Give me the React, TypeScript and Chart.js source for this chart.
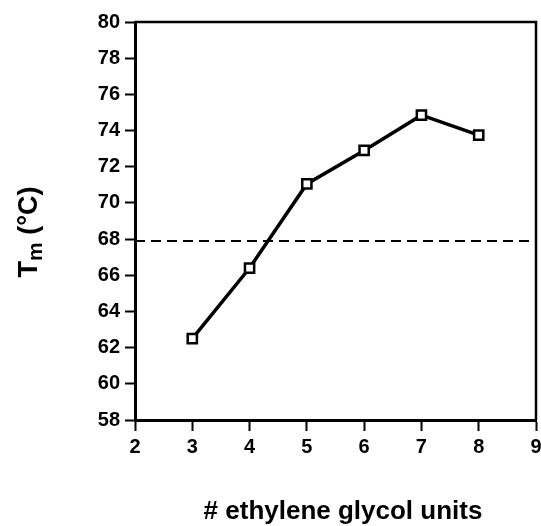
import React, { useEffect, useRef } from "react";
import { Chart, registerables } from "chart.js";

Chart.register(...registerables);

const units = [3, 4, 5, 6, 7, 8];
const tmValues = [62.5, 66.4, 71.05, 72.9, 74.85, 73.75];
const referenceTm = 67.9;
const xRange = [2, 9];
const yRange = [58, 80];
const xTitle = "# ethylene glycol units";
const yTitleMain = "T";
const yTitleSub = "m";
const yTitleRest = " (°C)";

const FONT = "'Liberation Sans', Arial, Helvetica, sans-serif";

const framePlugin = {
  id: "frameAndTitles",
  afterDatasetsDraw(chart: any) {
    const { ctx, chartArea } = chart;
    ctx.save();
    ctx.strokeStyle = "#000";
    ctx.lineWidth = 2.5;
    ctx.beginPath();
    ctx.moveTo(chartArea.left, chartArea.top);
    ctx.lineTo(chartArea.right, chartArea.top);
    ctx.lineTo(chartArea.right, chartArea.bottom);
    ctx.stroke();
    ctx.restore();
  },
  afterDraw(chart: any) {
    const { ctx } = chart;
    ctx.save();
    ctx.fillStyle = "#000";
    // x title
    ctx.font = `bold 26px ${FONT}`;
    ctx.textAlign = "center";
    ctx.textBaseline = "alphabetic";
    ctx.fillText(xTitle, 343, 519);
    // y title with subscript
    const bigFont = `bold 27px ${FONT}`;
    const subFont = `bold 21px ${FONT}`;
    ctx.font = bigFont;
    const wT = ctx.measureText(yTitleMain).width;
    const wR = ctx.measureText(yTitleRest).width;
    ctx.font = subFont;
    const wM = ctx.measureText(yTitleSub).width;
    const total = wT + wM + wR;
    ctx.translate(37, 232);
    ctx.rotate(-Math.PI / 2);
    ctx.textAlign = "left";
    let x = -total / 2;
    ctx.font = bigFont;
    ctx.fillText(yTitleMain, x, 0);
    x += wT;
    ctx.font = subFont;
    ctx.fillText(yTitleSub, x, 5);
    x += wM;
    ctx.font = bigFont;
    ctx.fillText(yTitleRest, x, 0);
    ctx.restore();
  },
};

export default function App() {
  const canvasRef = useRef<HTMLCanvasElement | null>(null);

  useEffect(() => {
    if (!canvasRef.current) return;
    const chart = new Chart(canvasRef.current, {
      type: "scatter",
      data: {
        datasets: [
          {
            data: units.map((u, i) => ({ x: u, y: tmValues[i] })),
            showLine: true,
            borderColor: "#000",
            borderWidth: 3.5,
            pointStyle: "rect",
            pointRadius: 6.5,
            pointBorderWidth: 2.5,
            pointBackgroundColor: "#fff",
            pointBorderColor: "#000",
          },
          {
            data: [
              { x: xRange[0], y: referenceTm },
              { x: xRange[1], y: referenceTm },
            ],
            showLine: true,
            borderColor: "#000",
            borderWidth: 2,
            borderDash: [10, 6],
            pointRadius: 0,
          },
        ],
      },
      options: {
        animation: false,
        responsive: true,
        maintainAspectRatio: false,
        layout: { autoPadding: false, padding: { top: 22, right: 5, left: 0, bottom: 0 } },
        plugins: {
          legend: { display: false },
          tooltip: { enabled: false },
          title: { display: false },
        },
        scales: {
          x: {
            type: "linear",
            min: xRange[0],
            max: xRange[1],
            afterFit: (s: any) => {
              s.height = 106;
              s.paddingLeft = 0;
              s.paddingRight = 0;
            },
            ticks: {
              stepSize: 1,
              color: "#000",
              font: { family: FONT, size: 20, weight: "bold" },
              padding: 4,
              maxRotation: 0,
            },
            grid: {
              drawOnChartArea: false,
              drawTicks: true,
              tickLength: 11,
              tickWidth: 2,
              tickColor: "#000",
              color: "#000",
            },
            border: { display: true, color: "#000", width: 3 },
          },
          y: {
            type: "linear",
            min: yRange[0],
            max: yRange[1],
            afterFit: (s: any) => {
              s.width = 135;
            },
            ticks: {
              stepSize: 2,
              color: "#000",
              font: { family: FONT, size: 20, weight: "bold" },
              padding: 5,
            },
            grid: {
              drawOnChartArea: false,
              drawTicks: true,
              tickLength: 10,
              tickWidth: 2,
              tickColor: "#000",
              color: "#000",
            },
            border: { display: true, color: "#000", width: 3 },
          },
        },
      },
      plugins: [framePlugin],
    });
    return () => chart.destroy();
  }, []);

  return (
    <div style={{ position: "fixed", left: 0, top: 0, width: 541, height: 526, background: "#fff" }}>
      <canvas ref={canvasRef} />
    </div>
  );
}
